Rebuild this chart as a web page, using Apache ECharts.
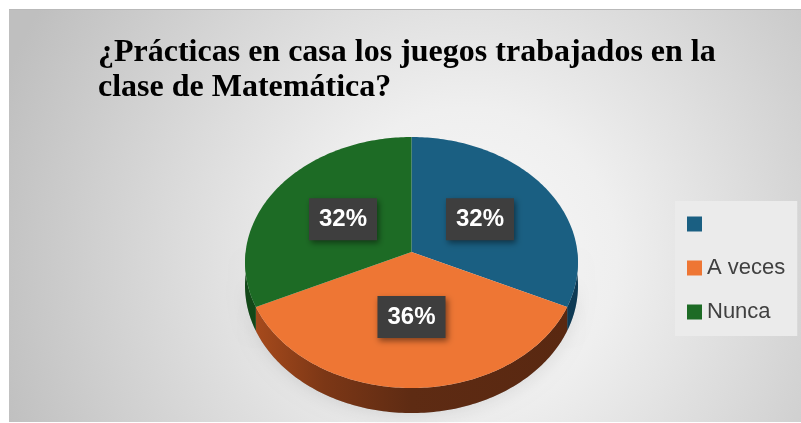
<!DOCTYPE html>
<html>
<head>
<meta charset="utf-8">
<script src="https://cdn.jsdelivr.net/npm/echarts@6/dist/echarts.min.js"></script>
<style>
html,body{margin:0;padding:0;background:#fff;}
#chart{width:801px;height:423px;}
</style>
</head>
<body>
<div id="chart"></div>
<script>
// ---- data ----
const categories = [' ', 'A veces', 'Nunca'];   // first category has no visible label
const values = [32, 36, 32];                    // percentages
const titleText = '¿Prácticas en casa los juegos trabajados en la\nclase de Matemática?';

// ---- styles ----
const topColors = ['#1a5f82', '#ee7634', '#1d6b25'];
const sideColors = ['#0e3a54', null, '#124818'];

const total = values.reduce((a, b) => a + b, 0);
const starts = [];
values.reduce((acc, v, i) => { starts[i] = acc; return acc + v; }, 0);

// perspective projection of the tilted disc
const CX = 411.5, CY = 252, A = 165.9, B = 124.6, C = -0.08366, DEPTH = 23;
function proj(u, v, dz) {
  const w = 1 + C * v;
  return [CX + A * u / w, CY + (B * v + dz) / w];
}
function rim(deg, dz, scale) {
  const r = deg * Math.PI / 180;
  const s = scale == null ? 1 : scale;
  return proj(s * Math.sin(r), -s * Math.cos(r), dz);
}
function arc(a0, a1, dz) {
  const pts = [];
  const n = Math.max(2, Math.ceil(Math.abs(a1 - a0)));
  for (let i = 0; i <= n; i++) pts.push(rim(a0 + (a1 - a0) * i / n, dz));
  return pts;
}

function makeRender(idx) {
  return function (params, api) {
    const start = api.value(0), val = api.value(1), tot = api.value(2);
    const a0 = start / tot * 360, a1 = (start + val) / tot * 360;
    const children = [];
    const s0 = Math.max(a0, 90), s1 = Math.min(a1, 270);
    if (s0 < s1) {
      const sidePts = arc(s0, s1, 0).concat(arc(s1, s0, DEPTH));
      children.push({
        type: 'polygon', z2: -1, shape: { points: sidePts },
        style: { fill: 'rgba(0,0,0,0.2)', shadowBlur: 16, shadowColor: 'rgba(0,0,0,0.45)', shadowOffsetY: 4 }
      });
      let fill = sideColors[idx];
      if (!fill) {
        fill = new echarts.graphic.LinearGradient(0, 0, 1, 0, [
          { offset: 0, color: '#a64a1c' },
          { offset: 0.22, color: '#7c3716' },
          { offset: 0.5, color: '#5e2b13' },
          { offset: 1, color: '#592811' }
        ]);
      }
      children.push({ type: 'polygon', z2: 0, shape: { points: sidePts }, style: { fill: fill } });
    }
    const topPts = [proj(0, 0, 0)].concat(arc(a0, a1, 0));
    children.push({ type: 'polygon', z2: 10, shape: { points: topPts }, style: { fill: api.visual('color') } });
    const mid = (a0 + a1) / 2;
    const lp = rim(mid, 0, 0.5);
    children.push({
      type: 'text', z2: 20,
      style: {
        text: Math.round(val / tot * 100) + '%',
        x: lp[0], y: lp[1], align: 'center', verticalAlign: 'middle',
        fill: '#ffffff', font: 'bold 24px "Liberation Sans", Arial, sans-serif',
        backgroundColor: '#3e3e3e', padding: [9, 10, 9, 10],
        shadowBlur: 6, shadowColor: 'rgba(0,0,0,0.45)', shadowOffsetX: 2, shadowOffsetY: 3
      }
    });
    return { type: 'group', children: children };
  };
}

const chart = echarts.init(document.getElementById('chart'), null, { renderer: 'canvas' });
chart.setOption({
  animation: false,
  color: topColors,
  graphic: [
    {
      type: 'rect', z: -10, silent: true,
      shape: { x: 9, y: 9, width: 792, height: 413 },
      style: {
        fill: new echarts.graphic.RadialGradient(0.58, 0.6, 1.2, [
          { offset: 0, color: '#f8f8f8' },
          { offset: 0.3, color: '#efefef' },
          { offset: 1, color: '#bfbfbf' }
        ])
      }
    },
    {
      type: 'line', z: -9, silent: true,
      shape: { x1: 9, y1: 9.5, x2: 801, y2: 9.5 },
      style: { stroke: '#b9b9b9', lineWidth: 1 }
    }
  ],
  title: {
    text: titleText,
    left: 98, top: 35, padding: 0,
    textStyle: {
      fontFamily: '"Liberation Serif", "Times New Roman", serif',
      fontWeight: 'bold', fontSize: 32, lineHeight: 35, color: '#000000'
    }
  },
  legend: {
    orient: 'vertical', left: 675, top: 201,
    padding: [12, 12, 13, 12],
    backgroundColor: '#ebebeb',
    icon: 'rect', itemWidth: 15, itemHeight: 15, itemGap: 22,
    selectedMode: false,
    textStyle: { fontFamily: '"Liberation Sans", Arial, sans-serif', fontSize: 22, lineHeight: 22, color: '#404040' },
    data: categories
  },
  series: categories.map((name, i) => ({
    type: 'custom', name: name, coordinateSystem: 'none',
    itemStyle: { color: topColors[i] },
    renderItem: makeRender(i),
    data: [[starts[i], values[i], total]]
  }))
});
</script>
</body>
</html>
